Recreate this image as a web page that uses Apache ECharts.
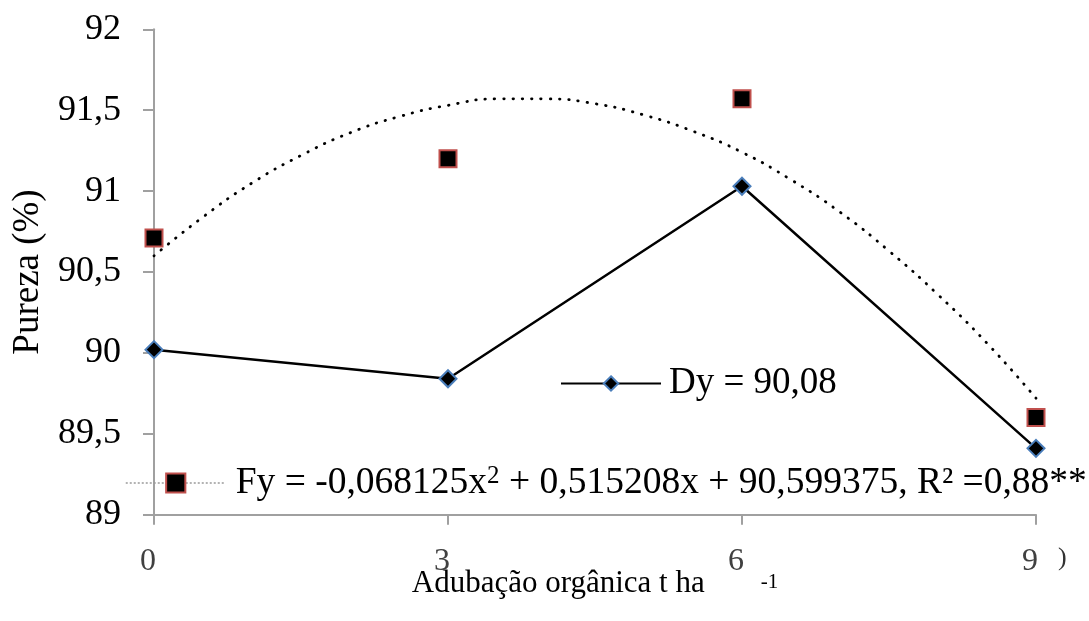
<!DOCTYPE html>
<html>
<head>
<meta charset="utf-8">
<script src="https://cdn.jsdelivr.net/npm/echarts@6/dist/echarts.min.js"></script>
<style>
html,body{margin:0;padding:0;background:#fff;}
#c{width:1089px;height:621px;}
</style>
</head>
<body>
<div id="c"></div>
<script>
// Doses (t ha-1)
var doses = [0, 3, 6, 9];
// D series (Pureza %)
var dValues = [90.02, 89.84, 91.03, 89.41];
// F series (Pureza %)
var fValues = [90.71, 91.20, 91.57, 89.60];
// Quadratic trend line of F
var trendX = [0, 0.5, 1, 1.5, 2, 2.5, 3, 3.5, 4, 4.5, 5, 5.5, 6, 6.5, 7, 7.5, 8, 8.5, 9];
var trendY = [90.60, 90.84, 91.05, 91.22, 91.36, 91.46, 91.53, 91.57, 91.57, 91.54, 91.47, 91.37, 91.24, 91.07, 90.87, 90.63, 90.36, 90.06, 89.72];
// Axis tick settings
var xTicks = {min: 0, max: 9, interval: 3};
var yTicks = {min: 89, max: 92, interval: 0.5};
var legendD = 'Dy = 90,08';
var legendF = 'Fy = -0,068125x{sup|2} + 0,515208x + 90,599375, R² =0,88**';

var serif = '"Liberation Serif", "Times New Roman", serif';
var chart = echarts.init(document.getElementById('c'), null, {renderer: 'canvas'});

function pairs(xs, ys) { return xs.map(function (x, i) { return [x, ys[i]]; }); }

chart.setOption({
  animation: false,
  backgroundColor: '#fff',
  grid: {left: 154, right: 53, top: 29.3, bottom: 106.3, containLabel: false},
  xAxis: {
    type: 'value', min: xTicks.min, max: xTicks.max, interval: xTicks.interval,
    axisLine: {show: true, onZero: false, lineStyle: {color: '#a0a0a0', width: 2}},
    axisTick: {show: true, length: 10, lineStyle: {color: '#a0a0a0', width: 2}},
    splitLine: {show: false},
    axisLabel: {fontFamily: serif, fontSize: 32, color: '#404040', margin: 31, padding: [0, 12, 0, 0]},
    name: 'Adubação orgânica t ha{g| }{e|-1}',
    nameLocation: 'middle', nameGap: 54, nameMoveOverlap: false,
    nameTextStyle: {fontFamily: serif, fontSize: 31, color: '#000',
      rich: {g: {width: 56, fontSize: 31, fontFamily: serif}, e: {fontSize: 21, fontFamily: serif, color: '#000', padding: [0, 0, 4, 0]}}}
  },
  yAxis: {
    type: 'value', min: yTicks.min, max: yTicks.max, interval: yTicks.interval,
    axisLine: {show: true, onZero: false, lineStyle: {color: '#a0a0a0', width: 2}},
    axisTick: {show: true, length: 11, lineStyle: {color: '#a0a0a0', width: 2}},
    splitLine: {show: false},
    axisLabel: {fontFamily: serif, fontSize: 36, color: '#000', margin: 33,
      formatter: function (v) { return String(v).replace('.', ','); }},
    name: 'Pureza (%)', nameLocation: 'middle', nameGap: 107, nameMoveOverlap: false,
    nameTextStyle: {fontFamily: serif, fontSize: 37, color: '#000'}
  },
  legend: [
    {
      data: ['D'], left: 560, top: 365, padding: 0, itemWidth: 100, itemHeight: 18,
      formatter: function () { return legendD; },
      textStyle: {fontFamily: serif, fontSize: 37, color: '#000', padding: [0, 0, 0, 3]}
    },
    {
      data: [{name: 'F', lineStyle: {type: [2, 2], color: '#9a9a9a', width: 1.5, opacity: 1}}],
      left: 125, top: 464, padding: 0, itemWidth: 100, itemHeight: 24,
      formatter: function () { return legendF; },
      textStyle: {fontFamily: serif, fontSize: 37.5, color: '#000', padding: [0, 0, 0, 5],
        rich: {sup: {fontFamily: serif, fontSize: 25, verticalAlign: 'top', color: '#000'}}}
    }
  ],
  series: [
    {
      name: 'D', type: 'line', data: pairs(doses, dValues),
      symbol: 'diamond', symbolSize: 17, z: 3,
      lineStyle: {color: '#000', width: 2.5},
      itemStyle: {color: '#000', borderColor: '#4a7ebb', borderWidth: 2}
    },
    {
      name: 'trend', type: 'line', data: pairs(trendX, trendY), smooth: true,
      symbol: 'none', z: 2,
      lineStyle: {color: '#000', width: 2.8, type: [0.5, 8.8], cap: 'round'}
    },
    {
      name: 'F', type: 'line', data: pairs(doses, fValues),
      symbol: 'rect', symbolSize: 17, z: 4,
      lineStyle: {opacity: 0, width: 0},
      itemStyle: {color: '#000', borderColor: '#c0504d', borderWidth: 2}
    }
  ],
  graphic: [
    {type: 'text', left: 1058, top: 545, style: {text: ')', font: '26px ' + serif, fill: '#333'}}
  ]
});
</script>
</body>
</html>
